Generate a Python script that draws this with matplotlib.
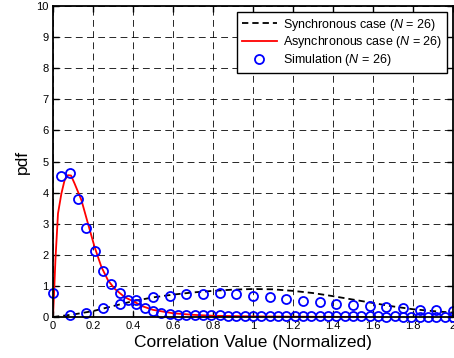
import numpy as np
import matplotlib
matplotlib.use("Agg")
import matplotlib.pyplot as plt

plt.rcParams.update({
    'font.family': ['Liberation Sans', 'DejaVu Sans'],
    'mathtext.fontset': 'custom',
    'mathtext.rm': 'Liberation Sans',
    'mathtext.it': 'Liberation Sans:italic',
})

# synchronous case (analytical, dashed black)
sync_x = [0, 0.1, 0.2, 0.3, 0.4, 0.5, 0.6, 0.7, 0.8, 0.9, 1.0,
          1.1, 1.2, 1.3, 1.4, 1.5, 1.6, 1.7, 1.8, 1.9, 2.0]
sync_y = [0, 0.08, 0.19, 0.35, 0.51, 0.63, 0.72, 0.79, 0.84, 0.88, 0.90,
          0.89, 0.84, 0.77, 0.67, 0.56, 0.45, 0.34, 0.25, 0.19, 0.14]

# asynchronous case (analytical, red)
async_x = [0, 0.005, 0.012, 0.025, 0.042, 0.058, 0.075, 0.09, 0.108, 0.142,
           0.175, 0.208, 0.242, 0.275, 0.308, 0.358, 0.408, 0.45, 0.5, 0.6,
           0.7, 0.8, 0.9, 1.0, 1.2, 1.4, 1.56]
async_y = [0, 0.7, 1.82, 3.33, 3.97, 4.40, 4.56, 4.55, 4.29, 3.76,
           3.0, 2.25, 1.61, 1.18, 0.91, 0.64, 0.48, 0.34, 0.23, 0.12,
           0.07, 0.04, 0.03, 0.02, 0.01, 0.005, 0.003]

# simulation points, asynchronous
sim_async_x = np.arange(49) / 24
sim_async_y = [0.78, 4.54, 4.62, 3.80, 2.87, 2.11, 1.49, 1.06, 0.76, 0.56,
               0.43, 0.29, 0.19, 0.14, 0.11, 0.08, 0.08, 0.06, 0.06, 0.05,
               0.05, 0.04, 0.04, 0.03, 0.03, 0.03, 0.03, 0.03, 0.02, 0.02,
               0.02, 0.02, 0.02, 0.02, 0.02, 0.02, 0.02, 0.02, 0.02, 0.02,
               0.01, 0.02, 0.01, 0.01, 0.01, 0.01, 0.01, 0.01, 0.01]

# simulation points, synchronous
sim_sync_x = np.arange(1, 25) / 12
sim_sync_y = [0.05, 0.14, 0.29, 0.41, 0.56, 0.64, 0.69, 0.75, 0.75, 0.76,
              0.75, 0.67, 0.64, 0.58, 0.53, 0.49, 0.43, 0.40, 0.34, 0.33,
              0.29, 0.24, 0.23, 0.18]

fig = plt.figure(figsize=(4.54, 3.58), dpi=100)
ax = fig.add_axes([53/454, 1 - 317/358, 400/454, 311/358])

ax.plot(sync_x, sync_y, 'k--', lw=1.3, dashes=(3.5, 2.2),
        label='Synchronous case ($N$ = 26)')
ax.plot(async_x, async_y, 'r-', lw=1.3, label='Asynchronous case ($N$ = 26)')
ax.plot(sim_async_x, sim_async_y, 'o', mfc='none', mec='blue', ms=6.5, mew=1.3,
        clip_on=False, label='Simulation ($N$ = 26)')
ax.plot(sim_sync_x, sim_sync_y, 'o', mfc='none', mec='blue', ms=6.5, mew=1.3,
        clip_on=False)

ax.set_xlim(0, 2)
ax.set_ylim(0, 10)
ax.set_xticks(np.arange(0, 2.01, 0.2))
ax.set_xticklabels(['0', '0.2', '0.4', '0.6', '0.8', '1', '1.2', '1.4', '1.6', '1.8', '2'])
ax.set_yticks(np.arange(0, 11, 1))
ax.tick_params(direction='in', labelsize=8, length=4, width=1, top=True, right=True, pad=3)
ax.grid(True, color='black', linestyle=(0, (7, 4.5)), linewidth=0.7, alpha=0.85)
for s in ax.spines.values():
    s.set_linewidth(1.3)

ax.set_xlabel('Correlation Value (Normalized)', fontsize=12.5, labelpad=3)
ax.set_ylabel('pdf', fontsize=12.5, labelpad=5)

leg = ax.legend(loc='upper right', fontsize=9, frameon=True, fancybox=False,
                edgecolor='black', framealpha=1, handlelength=2.8,
                borderpad=0.35, labelspacing=0.15, borderaxespad=0.5,
                handletextpad=0.5)
leg.get_frame().set_linewidth(1.0)

fig.savefig('out.png', dpi=100)
